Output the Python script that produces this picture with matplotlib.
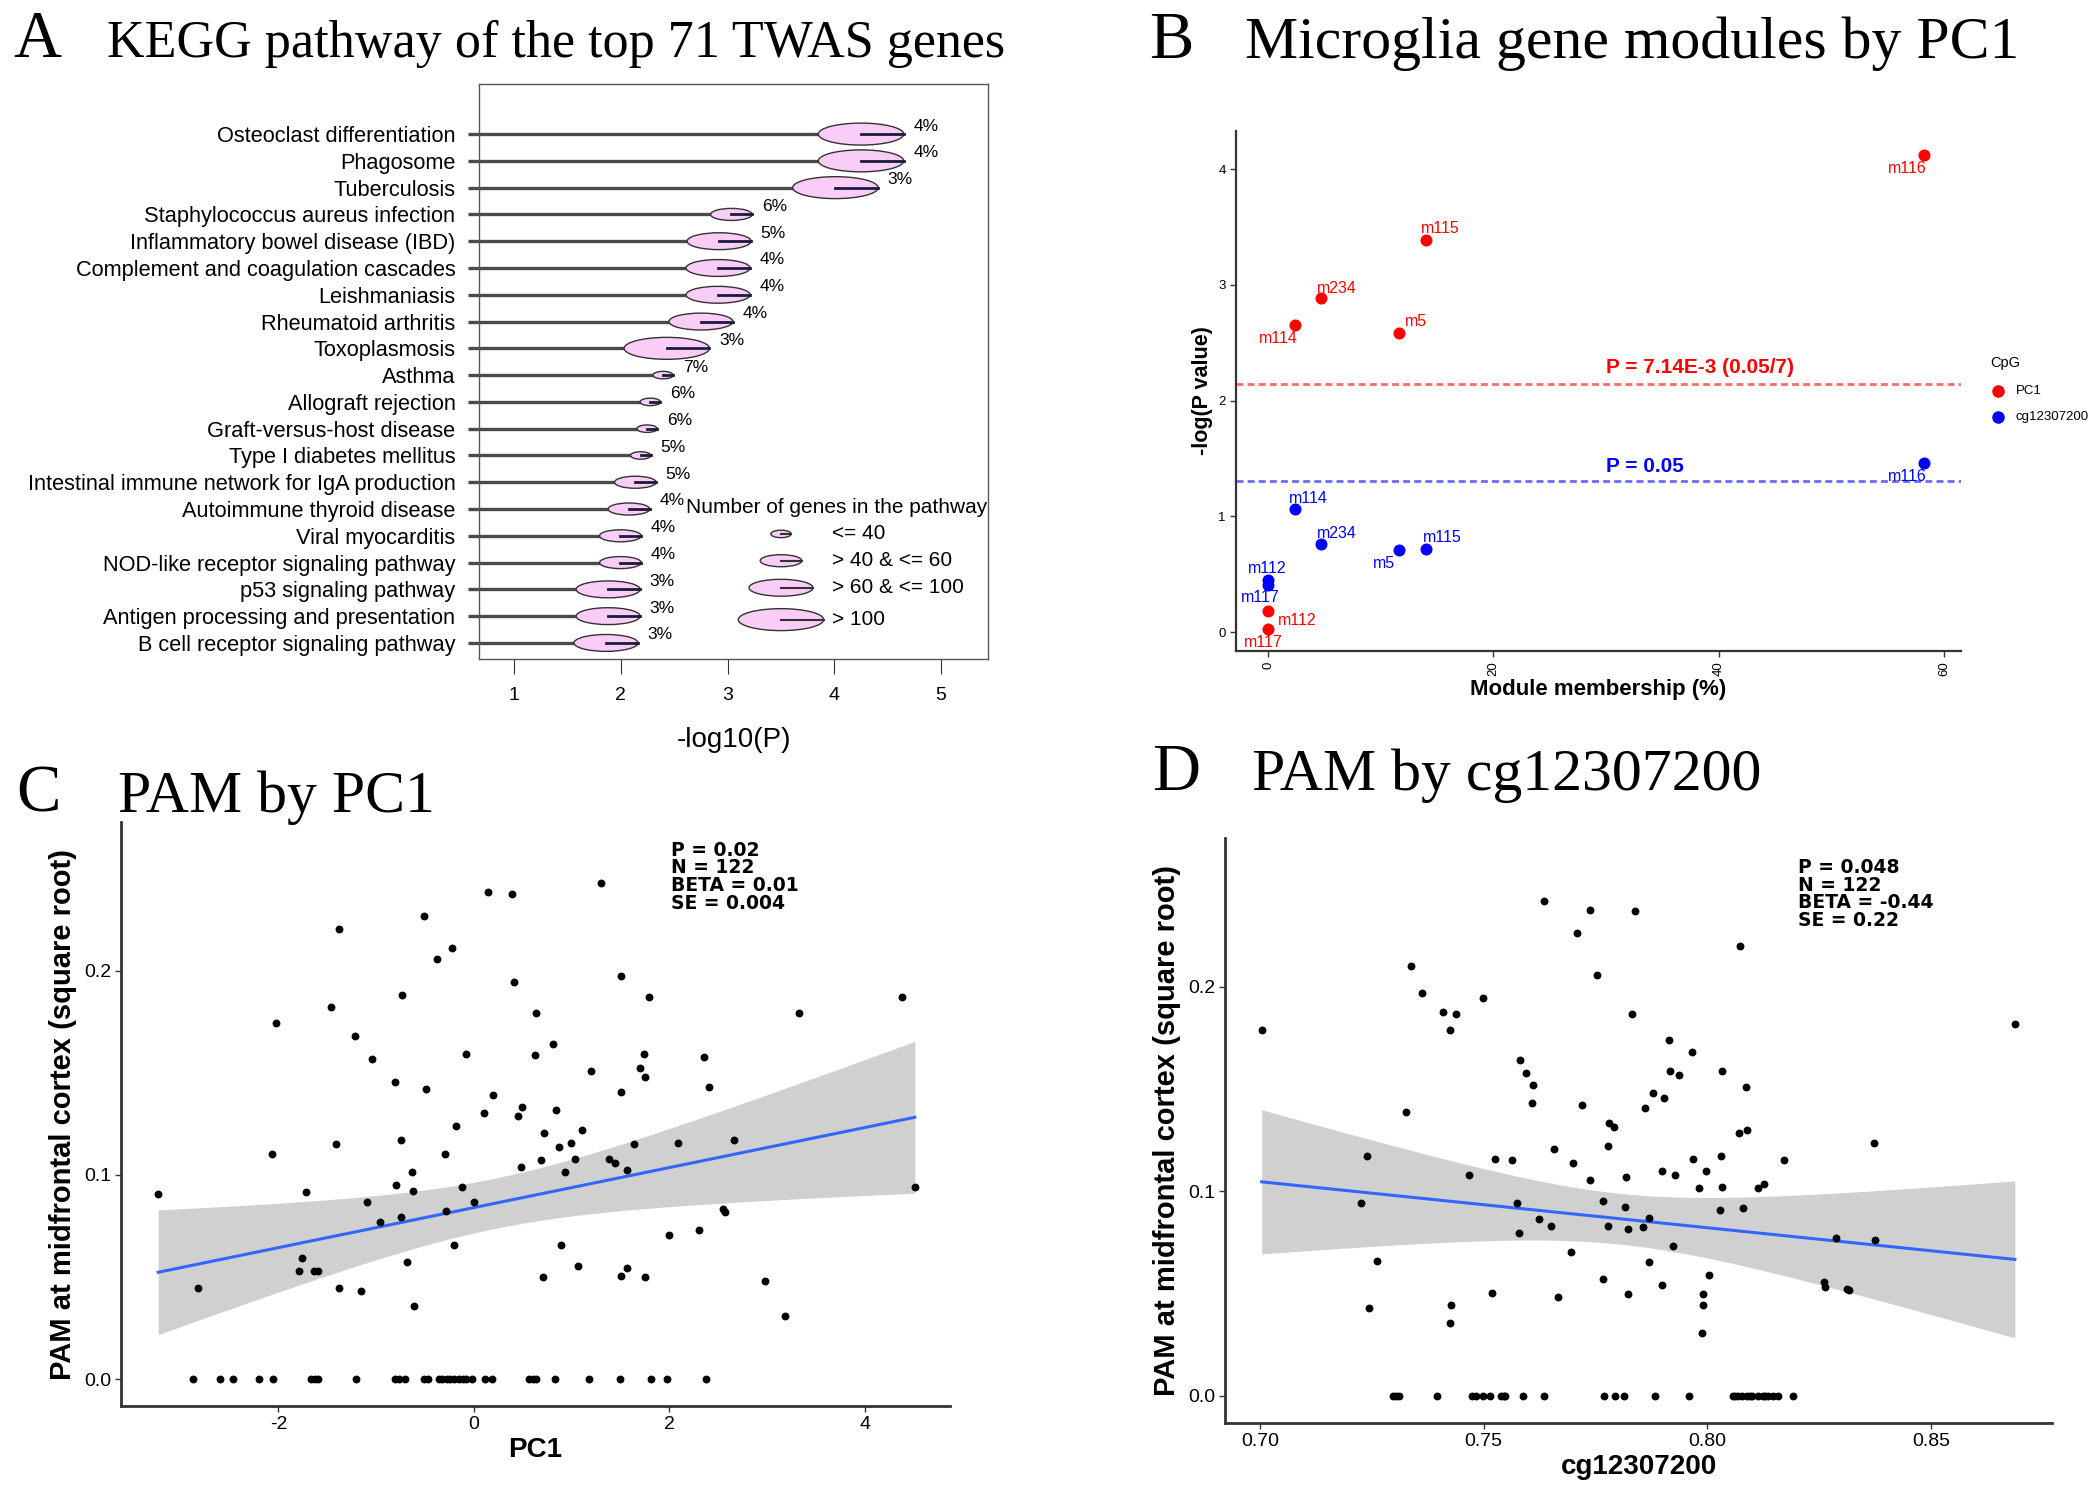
import numpy as np
import matplotlib
matplotlib.use('Agg')
import matplotlib.pyplot as plt
from matplotlib.patches import Ellipse

plt.rcParams['axes.unicode_minus'] = False

# ---- panel A data ----
pathways = ['Osteoclast differentiation', 'Phagosome', 'Tuberculosis',
            'Staphylococcus aureus infection', 'Inflammatory bowel disease (IBD)',
            'Complement and coagulation cascades', 'Leishmaniasis', 'Rheumatoid arthritis',
            'Toxoplasmosis', 'Asthma', 'Allograft rejection', 'Graft-versus-host disease',
            'Type I diabetes mellitus', 'Intestinal immune network for IgA production',
            'Autoimmune thyroid disease', 'Viral myocarditis', 'NOD-like receptor signaling pathway',
            'p53 signaling pathway', 'Antigen processing and presentation',
            'B cell receptor signaling pathway']
neg_log10_p = [4.65, 4.65, 4.41, 3.23, 3.22, 3.21, 3.21, 3.05, 2.83, 2.49,
               2.37, 2.34, 2.28, 2.33, 2.27, 2.19, 2.19, 2.18, 2.18, 2.16]
pct_labels = ['4%', '4%', '3%', '6%', '5%', '4%', '4%', '4%', '3%', '7%',
              '6%', '6%', '5%', '5%', '4%', '4%', '4%', '3%', '3%', '3%']
size_class = [3, 3, 3, 1, 2, 2, 2, 2, 3, 0, 0, 0, 0, 1, 1, 1, 1, 2, 2, 2]
size_labels = ['<= 40', '> 40 & <= 60', '> 60 & <= 100', '> 100']

# ---- panel B data ----
modules = ['m116', 'm115', 'm234', 'm114', 'm5', 'm112', 'm117']
membership = [58.2, 14.0, 4.66, 2.38, 11.66, 0.0, 0.0]
neglogp_pc1 = [4.12, 3.39, 2.89, 2.65, 2.58, 0.18, 0.03]
neglogp_cg = [1.46, 0.72, 0.76, 1.06, 0.71, 0.45, 0.41]

# ---- panel C data ----
pc1_nz = [1.30, 0.14, 0.39, -0.51, -1.38, -0.22, -0.38, 1.50, 0.41, -0.74, 1.79, 4.38, -1.46, 0.63,
          3.33, -2.02, -1.22, 0.81, -0.08, 0.62, 1.74, 2.35, -1.04, 1.20, 1.70, 1.75, -0.81, -0.49,
          2.40, 1.50, 0.20, 0.49, 0.10, 0.45, 0.84, -0.18, 1.11, 0.72, -1.41, -0.75, 0.99, 0.87,
          1.64, 2.09, 2.66, -2.07, -0.30, 0.69, 1.03, 1.38, 1.44, 0.48, -0.63, 0.93, 1.57, -3.23,
          -1.72, -0.80, -0.62, -0.12, 4.51, -1.09, 0.00, -0.29, -0.96, -0.75, 2.55, 2.57, 2.30,
          2.00, -0.20, 0.89, -1.76, -0.68, -1.79, -1.64, -1.59, 1.06, 1.57, 0.71, 1.50, 1.75, 2.98,
          -2.82, -1.38, -1.16, -0.61, 3.18]
pam_c_nz = [0.243, 0.2386, 0.2376, 0.2268, 0.2203, 0.2109, 0.2059, 0.1975, 0.1946, 0.1881, 0.1869,
            0.1869, 0.1824, 0.1791, 0.1791, 0.1742, 0.1680, 0.1641, 0.1591, 0.1585, 0.1591, 0.1578,
            0.1569, 0.1510, 0.1523, 0.1480, 0.1456, 0.1420, 0.1431, 0.1405, 0.1391, 0.1333, 0.1301,
            0.1288, 0.1317, 0.1240, 0.1222, 0.1206, 0.1152, 0.1170, 0.1154, 0.1137, 0.1152, 0.1154,
            0.1173, 0.1100, 0.1100, 0.1075, 0.1080, 0.1080, 0.1059, 0.1036, 0.1015, 0.1015, 0.1026,
            0.0908, 0.0917, 0.0949, 0.0922, 0.0941, 0.0941, 0.0866, 0.0866, 0.0821, 0.0767, 0.0796,
            0.0832, 0.0816, 0.0731, 0.0705, 0.0657, 0.0657, 0.0592, 0.0571, 0.0527, 0.0527, 0.0527,
            0.0555, 0.0543, 0.0498, 0.0507, 0.0498, 0.0481, 0.0445, 0.0445, 0.0429, 0.0356, 0.0307]
pc1_zero = [-2.87, -2.60, -2.46, -2.20, -2.06, -1.67, -1.63, -1.59, -1.21, -0.81, -0.77, -0.71,
            -0.51, -0.47, -0.36, -0.33, -0.28, -0.24, -0.20, -0.15, -0.11, -0.08, -0.02, 0.11,
            0.18, 0.56, 0.60, 0.64, 0.83, 1.18, 1.49, 1.81, 1.98, 2.37]

# ---- panel D data ----
cg_nz = [0.7635, 0.7738, 0.7839, 0.7708, 0.8074, 0.7338, 0.7753, 0.7363, 0.7499, 0.7410, 0.7439,
         0.7831, 0.7004, 0.8688, 0.7424, 0.7914, 0.7967, 0.7582, 0.7596, 0.7611, 0.7918, 0.7938,
         0.8033, 0.8086, 0.7878, 0.7903, 0.7608, 0.7721, 0.7326, 0.7860, 0.7781, 0.7792, 0.8071,
         0.8090, 0.8374, 0.7779, 0.7658, 0.7239, 0.7526, 0.7563, 0.7700, 0.7968, 0.8031, 0.8172,
         0.7899, 0.7997, 0.7928, 0.7467, 0.7818, 0.7738, 0.7981, 0.8033, 0.8114, 0.8128, 0.7225,
         0.7574, 0.7767, 0.7817, 0.8028, 0.8081, 0.7624, 0.7650, 0.7778, 0.7824, 0.7857, 0.7871,
         0.7579, 0.8289, 0.8376, 0.7924, 0.7696, 0.7261, 0.7871, 0.8004, 0.7768, 0.8261, 0.8264,
         0.8313, 0.8318, 0.7900, 0.7518, 0.7824, 0.7990, 0.7667, 0.7990, 0.7428, 0.7244, 0.7425,
         0.7989]
pam_d_nz = [0.2420, 0.2377, 0.2371, 0.2263, 0.2198, 0.2104, 0.2057, 0.1971, 0.1945, 0.1878, 0.1870,
            0.1868, 0.1789, 0.1821, 0.1789, 0.1740, 0.1680, 0.1642, 0.1577, 0.1520, 0.1590, 0.1569,
            0.1590, 0.1512, 0.1483, 0.1459, 0.1431, 0.1421, 0.1390, 0.1407, 0.1333, 0.1314, 0.1285,
            0.1301, 0.1239, 0.1223, 0.1208, 0.1174, 0.1158, 0.1154, 0.1138, 0.1158, 0.1171, 0.1154,
            0.1101, 0.1101, 0.1081, 0.1081, 0.1073, 0.1057, 0.1016, 0.1024, 0.1016, 0.1037, 0.0943,
            0.0946, 0.0951, 0.0923, 0.0910, 0.0918, 0.0865, 0.0829, 0.0832, 0.0816, 0.0824, 0.0869,
            0.0799, 0.0772, 0.0763, 0.0731, 0.0706, 0.0661, 0.0657, 0.0592, 0.0573, 0.0555, 0.0532,
            0.0524, 0.0520, 0.0543, 0.0506, 0.0498, 0.0499, 0.0483, 0.0444, 0.0445, 0.0429, 0.0356,
            0.0310]
cg_zero = [0.7297, 0.7305, 0.7311, 0.7397, 0.7474, 0.7483, 0.7499, 0.7514, 0.7540, 0.7545, 0.7549,
           0.7588, 0.7635, 0.7769, 0.7793, 0.7813, 0.7883, 0.7960, 0.8057, 0.8063, 0.8068, 0.8079,
           0.8090, 0.8095, 0.8101, 0.8114, 0.8125, 0.8130, 0.8136, 0.8147, 0.8158, 0.8193]

W, H = 2100, 1493
SANS = 'Liberation Sans'
SERIF = 'Liberation Serif'
BOLD = 'DejaVu Sans'

fig = plt.figure(figsize=(21, 14.93), dpi=100)


def add_rect(l, t, r, b):
    return fig.add_axes([l / W, 1 - b / H, (r - l) / W, (b - t) / H])


def heading(x_letter, x_title, y, letter, title, size):
    fig.text(x_letter / W, 1 - y / H, letter, family=SERIF, fontsize=48, va='baseline')
    fig.text(x_title / W, 1 - y / H, title, family=SERIF, fontsize=size, va='baseline')


def kegg_panel():
    ax = add_rect(479, 84, 988, 659)
    widths = [0.19, 0.39, 0.60, 0.80]
    heights = [0.28, 0.45, 0.63, 0.82]
    xmin = 0.67
    for i, v in enumerate(neg_log10_p):
        w, h = widths[size_class[i]], heights[size_class[i]]
        ax.plot([xmin - 0.1, v], [i, i], color='#4a4a4a', lw=2.4, solid_capstyle='butt',
                clip_on=False, zorder=1)
        ax.add_patch(Ellipse((v - w / 2, i), w, h, facecolor='#F9CDF5', edgecolor='#333333',
                             lw=1, zorder=2))
        ax.plot([v - w / 2, v], [i, i], color='#1a1a3a', lw=2, zorder=3)
        ax.text(v + 0.09, i - 0.3, pct_labels[i], family=SANS, fontsize=12.5, va='center')

    ax.text(2.61, 13.93, 'Number of genes in the pathway', family=SANS, fontsize=15, va='center')
    leg_y = [14.93, 15.93, 16.94, 18.13]
    for k, lab in enumerate(size_labels):
        w, h = widths[k], heights[k]
        ax.add_patch(Ellipse((3.50, leg_y[k]), w, h, facecolor='#F9CDF5', edgecolor='#333333',
                             lw=1, zorder=2))
        ax.plot([3.50, 3.50 + w / 2], [leg_y[k], leg_y[k]], color='#333333', lw=1.5, zorder=3)
        ax.text(3.98, leg_y[k], lab, family=SANS, fontsize=15, va='center')

    ax.set_xlim(xmin, 5.44)
    ax.set_ylim(19.6, -1.87)
    ax.set_yticks(range(len(pathways)))
    ax.set_yticklabels(pathways, family=SANS, fontsize=15.7)
    ax.tick_params(axis='y', length=0, pad=17)
    ax.set_xticks([1, 2, 3, 4, 5])
    ax.set_xticklabels(['1', '2', '3', '4', '5'], family=SANS, fontsize=14)
    ax.tick_params(axis='x', length=11, pad=9, color='#333333')
    for s in ax.spines.values():
        s.set_color('#555555')
        s.set_linewidth(1)
    ax.set_xlabel('-log10(P)', family=SANS, fontsize=20)
    ax.xaxis.set_label_coords(0.5, -(727 - 659) / 575)


def module_panel():
    ax = add_rect(1236, 131, 1961, 651)
    ax.axhline(-np.log10(0.05 / 7), color='#FF6B6B', ls=(0, (2.5, 1.5)), lw=2, zorder=1)
    ax.axhline(-np.log10(0.05), color='#6B6BFF', ls=(0, (2.5, 1.5)), lw=2, zorder=1)
    ax.text(30, -np.log10(0.05 / 7) + 0.06, 'P = 7.14E-3 (0.05/7)', color='#FF0000',
            family=SANS, fontweight='bold', fontsize=15, va='bottom')
    ax.text(30, -np.log10(0.05) + 0.05, 'P = 0.05', color='#0000FF',
            family=SANS, fontweight='bold', fontsize=15, va='bottom')
    ax.scatter(membership, neglogp_pc1, s=75, color='#FF0000', zorder=3, linewidths=0)
    ax.scatter(membership, neglogp_cg, s=75, color='#0000FF', zorder=3, linewidths=0)
    red_off = [(-1.5, -0.11), (1.3, 0.10), (1.44, 0.08), (-1.45, -0.11), (1.44, 0.10),
               (2.6, -0.08), (-0.4, -0.12)]
    blue_off = [(-1.5, -0.12), (1.5, 0.10), (1.44, 0.09), (1.2, 0.09), (-1.36, -0.12),
                (-0.1, 0.10), (-0.7, -0.11)]
    for i, m in enumerate(modules):
        ax.text(membership[i] + red_off[i][0], neglogp_pc1[i] + red_off[i][1], m,
                color='#FF0000', family=SANS, fontsize=11.5, ha='center', va='center')
        ax.text(membership[i] + blue_off[i][0], neglogp_cg[i] + blue_off[i][1], m,
                color='#0000FF', family=SANS, fontsize=11.5, ha='center', va='center')
    ax.set_xlim(-2.84, 61.5)
    ax.set_ylim(-0.164, 4.33)
    ax.set_xticks([0, 20, 40, 60])
    ax.set_xticklabels(['0', '20', '40', '60'], rotation=90, family=SANS, fontsize=9.5)
    ax.set_yticks([0, 1, 2, 3, 4])
    ax.set_yticklabels(['0', '1', '2', '3', '4'], family=SANS, fontsize=9.5)
    ax.tick_params(length=4, width=1, color='#333333')
    for s in ['top', 'right']:
        ax.spines[s].set_visible(False)
    for s in ['left', 'bottom']:
        ax.spines[s].set_color('#333333')
        ax.spines[s].set_linewidth(1.6)
    ax.set_xlabel('Module membership (%)', family=SANS, fontweight='bold', fontsize=16, labelpad=2)
    ax.set_ylabel('-log(P value)', family=SANS, fontweight='bold', fontsize=15.5, labelpad=4)

    # legend
    fig.text(1990 / W, 1 - 363 / H, 'CpG', family=SANS, fontsize=10.5, va='center')
    fig.add_artist(plt.Line2D([1997.5 / W], [1 - 390.7 / H], marker='o', ms=8, color='#FF0000',
                              ls='none', transform=fig.transFigure))
    fig.add_artist(plt.Line2D([1997.5 / W], [1 - 416.7 / H], marker='o', ms=8, color='#0000FF',
                              ls='none', transform=fig.transFigure))
    fig.text(2016 / W, 1 - 390.7 / H, 'PC1', family=SANS, fontsize=9.5, va='center')
    fig.text(2016 / W, 1 - 416.7 / H, 'cg12307200', family=SANS, fontsize=9.5, va='center')


def fit_band(x, y, xs):
    b1, b0 = np.polyfit(x, y, 1)
    n = len(x)
    resid = y - (b0 + b1 * x)
    s = np.sqrt(np.sum(resid ** 2) / (n - 2))
    se = s * np.sqrt(1 / n + (xs - x.mean()) ** 2 / np.sum((x - x.mean()) ** 2))
    return b0 + b1 * xs, 1.98 * se


def pam_panel(rect, xs_nz, ys_nz, xs_zero, xlim, xticks, xticklabels, xlabel, note, note_pos):
    ax = add_rect(*rect)
    x = np.array(xs_nz + xs_zero)
    y = np.array(ys_nz + [0.0] * len(xs_zero))
    grid = np.linspace(x.min(), x.max(), 200)
    fit, band = fit_band(x, y, grid)
    ax.fill_between(grid, fit - band, fit + band, color='#D0D0D0', lw=0, zorder=1)
    ax.plot(grid, fit, color='#3366FF', lw=2.2, zorder=2)
    ax.scatter(x, y, s=32, color='black', linewidths=0, zorder=3)
    ax.set_xlim(*xlim)
    ax.set_ylim(-0.0132, 0.2728)
    ax.set_xticks(xticks)
    ax.set_xticklabels(xticklabels, family=SANS, fontsize=14)
    ax.set_yticks([0, 0.1, 0.2])
    ax.set_yticklabels(['0.0', '0.1', '0.2'], family=SANS, fontsize=14)
    ax.tick_params(length=4, width=1, color='#333333', pad=3)
    for s in ['top', 'right']:
        ax.spines[s].set_visible(False)
    for s in ['left', 'bottom']:
        ax.spines[s].set_color('#333333')
        ax.spines[s].set_linewidth(2)
    ax.set_xlabel(xlabel, family=SANS, fontweight='bold', fontsize=20, labelpad=3)
    ax.set_ylabel('PAM at midfrontal cortex (square root)', family=SANS, fontweight='bold',
                  fontsize=21, labelpad=5)
    ax.text(note_pos[0], note_pos[1], note, transform=ax.transAxes, family=BOLD,
            fontweight='bold', fontsize=13.5, va='top', linespacing=0.92)


heading(13, 107, 57, 'A', 'KEGG pathway of the top 71 TWAS genes', 37.5)
heading(1149, 1245, 58, 'B', 'Microglia gene modules by PC1', 43)
heading(16, 118, 812, 'C', 'PAM by PC1', 43)
heading(1152, 1252, 790, 'D', 'PAM by cg12307200', 43)

kegg_panel()
module_panel()
pam_panel((121, 822, 950, 1406), pc1_nz, pam_c_nz, pc1_zero, (-3.61, 4.87), [-2, 0, 2, 4],
          ['-2', '0', '2', '4'], 'PC1',
          'P = 0.02\nN = 122\nBETA = 0.01\nSE = 0.004', (0.663, 0.968))
pam_panel((1225, 838, 2052, 1423), cg_nz, pam_d_nz, cg_zero, (0.6922, 0.8771),
          [0.70, 0.75, 0.80, 0.85], ['0.70', '0.75', '0.80', '0.85'], 'cg12307200',
          'P = 0.048\nN = 122\nBETA = -0.44\nSE = 0.22', (0.693, 0.966))

fig.savefig('out.png', dpi=100)
